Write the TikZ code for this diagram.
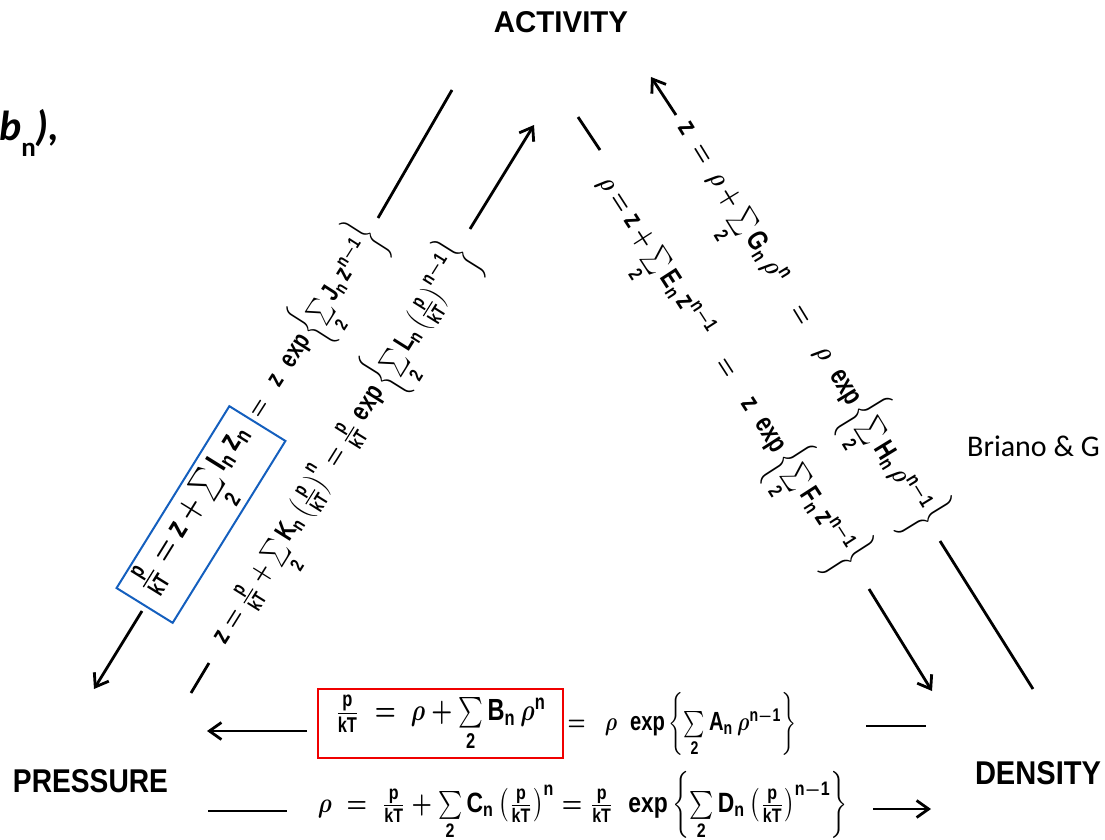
\documentclass[tikz,border=0pt]{standalone}
\usepackage{fontspec}
\setmainfont{Liberation Sans}
\setsansfont{Liberation Sans}
\newfontfamily\carlito{Carlito}
\usepackage{graphicx}
\usetikzlibrary{arrows.meta}
\definecolor{boxblue}{RGB}{20,95,190}
\definecolor{boxred}{RGB}{240,0,0}
\newcommand{\myPk}{\frac{\mathsf{p}}{\mathsf{kT}}}
\newcommand{\mySum}{\sum\limits_{\mathsf{2}}}
\newcommand{\myExp}{\mathsf{exp}}
\newcommand{\myN}{\mathsf{n}}
\newcommand{\myNm}{\mathsf{n}-\mathsf{1}}
\newcommand{\myZ}{\mathsf{z}}
\newcommand{\myEq}[3][1.3]{\scalebox{1}[#1]{\resizebox{#2}{!}{\boldmath$#3$}}}
\begin{document}
\begin{tikzpicture}[x=1pt,y=-1pt,
  ln/.style={line width=2.8pt},
  arr/.style={line width=2.8pt,-{Straight Barb[length=12pt,width=17pt]}},
  lbl/.style={inner sep=0pt,font=\bfseries},
  eq/.style={inner sep=0pt}]
\useasboundingbox (0,0) rectangle (1105,840);

% corner labels
\node[lbl] (act) at (561,22.5) {\resizebox{134pt}{21pt}{ACTIVITY}};
\node[lbl] (pre) at (90.5,781.5) {\resizebox{155pt}{23pt}{PRESSURE}};
\node[lbl] (den) at (1038,773.5) {\resizebox{126pt}{23pt}{DENSITY}};

% side texts
\node[anchor=base west,inner sep=0pt] (bn) at (-1,140)
  {\fontsize{42pt}{42pt}\carlito\bfseries\itshape b\raisebox{-17pt}{\fontsize{27pt}{27pt}\selectfont\upshape n}),};
\node[anchor=base west,inner sep=0pt] (cite) at (967,456)
  {\fontsize{30pt}{30pt}\carlito Briano \& G};

% bottom equations
\node[draw=boxred,line width=2pt,minimum width=245pt,minimum height=69pt,inner sep=0pt] (eqB) at (440.5,723.5)
  {\myEq{211pt}{\myPk\;=\;\rho+\mySum\mathsf{B}_{\myN}\,\rho^{\myN}}};
\node[eq] (eqA) at (682,725)
  {\myEq{229pt}{=\;\;\rho\;\;\myExp\left\{\mySum\mathsf{A}_{\myN}\,\rho^{\myNm}\right\}}};
\node[eq] (eqC) at (583,806)
  {\myEq[1.22]{530pt}{\rho\;=\;\myPk+\mySum\mathsf{C}_{\myN}\left(\myPk\right)^{\myN}=\myPk\;\;\myExp\left\{\mySum\mathsf{D}_{\myN}\left(\myPk\right)^{\myNm}\right\}}};

% diagonal equations
\node[draw=boxblue,line width=2pt,minimum width=214pt,minimum height=66pt,inner sep=0pt,rotate=58.2] (eqI) at (201,514.5)
  {\myEq{190pt}{\myPk=\myZ+\mySum\mathsf{I}_{\myN}\,\myZ_{\myN}}};
\node[eq,rotate=57.5] (eqJ) at (314,324)
  {\myEq{220pt}{=\;\;\myZ\;\;\myExp\left\{\mySum\mathsf{J}_{\myN}\,\myZ^{\myNm}\right\}}};
\node[eq,rotate=58] (eqK) at (343,446)
  {\myEq{462pt}{\myZ=\myPk+\mySum\mathsf{K}_{\myN}\left(\myPk\right)^{\myN}=\myPk\;\myExp\left\{\mySum\mathsf{L}_{\myN}\left(\myPk\right)^{\myNm}\right\}}};
\node[eq,rotate=-57.2] (eqE) at (728,372)
  {\myEq{460pt}{\rho=\myZ+\mySum\mathsf{E}_{\myN}\,\myZ^{\myNm}\quad=\quad \myZ\;\;\myExp\left\{\mySum\mathsf{F}_{\myN}\,\myZ^{\myNm}\right\}}};
\node[eq,rotate=-58.5] (eqG) at (806,325)
  {\myEq{470pt}{\myZ\;=\;\rho+\mySum\mathsf{G}_{\myN}\,\rho^{\myN}\quad=\quad\rho\;\;\myExp\left\{\mySum\mathsf{H}_{\myN}\,\rho^{\myNm}\right\}}};

% connector end points
\coordinate (loA) at (452,90);  \coordinate (loB) at (378,218);
\coordinate (loC) at (142,611); \coordinate (loD) at (94,689);
\coordinate (liA) at (209,663); \coordinate (liB) at (191,693);
\coordinate (liC) at (470,229); \coordinate (liD) at (534,125);
\coordinate (riA) at (578,117); \coordinate (riB) at (600,150);
\coordinate (riC) at (869,589); \coordinate (riD) at (932,691);
\coordinate (roA) at (676,115); \coordinate (roB) at (651,77);
\coordinate (roC) at (940,541); \coordinate (roD) at (1033,689);
\coordinate (b1A) at (307,731); \coordinate (b1B) at (207,731);
\coordinate (b1C) at (866,726); \coordinate (b1D) at (926,726);
\coordinate (b2A) at (208,811); \coordinate (b2B) at (287,811);
\coordinate (b2C) at (873,809); \coordinate (b2D) at (931,809);

\draw[ln] (loA) -- (loB);
\draw[arr] (loC) -- (loD);
\draw[ln] (liA) -- (liB);
\draw[arr] (liC) -- (liD);
\draw[ln] (riA) -- (riB);
\draw[arr] (riC) -- (riD);
\draw[arr] (roA) -- (roB);
\draw[ln] (roC) -- (roD);
\draw[arr] (b1A) -- (b1B);
\draw[ln] (b1C) -- (b1D);
\draw[ln] (b2A) -- (b2B);
\draw[arr] (b2C) -- (b2D);
\end{tikzpicture}
\end{document}
